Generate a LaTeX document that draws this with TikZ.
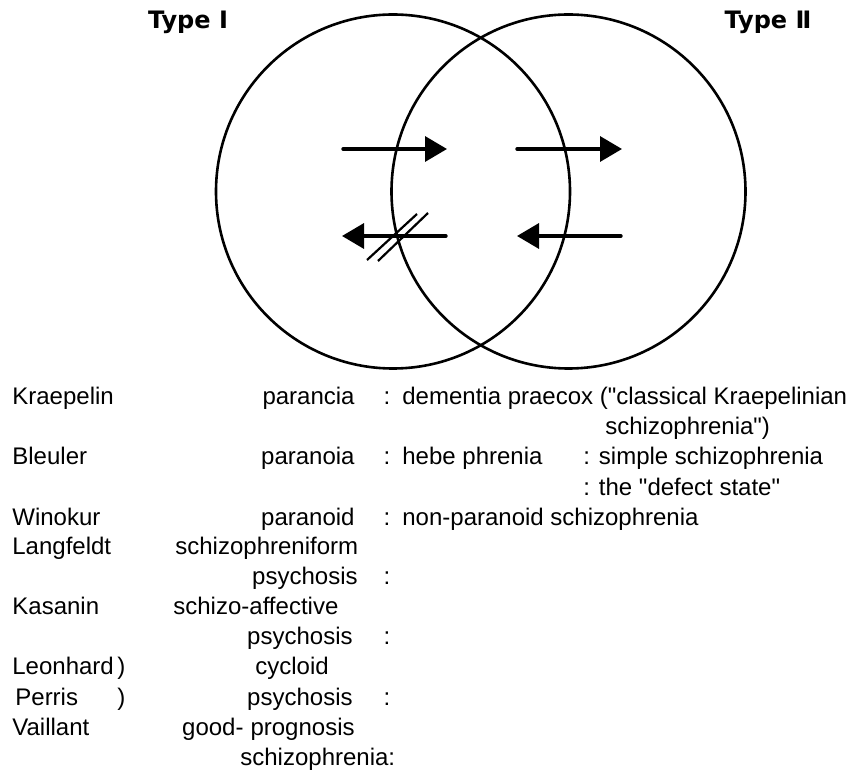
\documentclass[tikz,border=0pt]{standalone}
\usepackage{fontspec}
\setmainfont{Liberation Sans}
\newfontfamily\headfont{DejaVu Sans}
\usetikzlibrary{arrows.meta}

\begin{document}
\begin{tikzpicture}[
        x=0.5pt, y=-0.5pt,
        ring/.style={draw, circle, line width=1.3pt, minimum size=177pt, inner sep=0pt},
        head/.style={font=\headfont\bfseries\fontsize{12}{14}\selectfont, inner sep=0pt, anchor=base},
        txt/.style={font=\fontsize{12}{14}\selectfont, inner sep=0pt},
        lft/.style={txt, anchor=base west},
        rgt/.style={txt, anchor=base east},
        colon/.style={txt, anchor=base},
        arrow/.style={-{Triangle[length=11pt,width=12.5pt]}, line width=1.7pt, line cap=round},
        hatch/.style={line width=1.1pt}
    ]
        \useasboundingbox (0,0) rectangle (858,775);

        % Circles
        \node[ring] (typeI) at (393,191.5) {};
        \node[ring] (typeII) at (568.5,191.5) {};
        \node[head] (typeIlabel) at (188,29) {Type Ⅰ};
        \node[head] (typeIIlabel) at (768,29) {Type Ⅱ};

        % Arrows
        \coordinate (a1) at (343,149);
        \coordinate (a2) at (447,149);
        \coordinate (b1) at (517,149);
        \coordinate (b2) at (622,149);
        \coordinate (c1) at (446,236);
        \coordinate (c2) at (342,236);
        \coordinate (d1) at (621,236);
        \coordinate (d2) at (517,236);
        \draw[arrow] (a1) -- (a2);
        \draw[arrow] (b1) -- (b2);
        \draw[arrow] (c1) -- (c2);
        \draw[arrow] (d1) -- (d2);

        % Blocked arrow
        \coordinate (h1) at (367,260);
        \coordinate (h2) at (417,214);
        \coordinate (h3) at (378,261);
        \coordinate (h4) at (428,213);
        \draw[hatch] (h1) -- (h2);
        \draw[hatch] (h3) -- (h4);

        % Authors
        \node[lft] (kraepelin) at (12,405) {Kraepelin};
        \node[lft] (bleuler) at (12,465) {Bleuler};
        \node[lft] (winokur) at (12,525) {Winokur};
        \node[lft] (langfeldt) at (12,555) {Langfeldt};
        \node[lft] (kasanin) at (12,615) {Kasanin};
        \node[lft] (leonhard) at (12,675) {Leonhard};
        \node[lft] (perris) at (15,705) {Perris};
        \node[lft] (vaillant) at (12,735) {Vaillant};
        \node[lft] (brace1) at (117,675) {)};
        \node[lft] (brace2) at (117,705) {)};

        % Type I column
        \node[rgt] (kraeI) at (355,405) {parancia};
        \node[rgt] (bleuI) at (355,465) {paranoia};
        \node[rgt] (winoI) at (355,525) {paranoid};
        \node[lft] (langI) at (175,555) {schizophreniform};
        \node[rgt] (langIb) at (358,585) {psychosis};
        \node[lft] (kasaI) at (173,615) {schizo-affective};
        \node[rgt] (kasaIb) at (353,645) {psychosis};
        \node[lft] (leonI) at (255,675) {cycloid};
        \node[rgt] (leonIb) at (353,705) {psychosis};
        \node[rgt] (vailIa) at (244,735) {good-};
        \node[rgt] (vailI) at (355,735) {prognosis};
        \node[lft] (vailIb) at (240,765) {schizophrenia:};

        % Colons
        \foreach \r in {405,465,525,585,645,705}
            \node[colon] (sep\r) at (387,\r) {:};

        % Type II column
        \node[lft] (kraeII) at (402,405) {dementia praecox (\textquotedbl classical Kraepelinian};
        \node[lft] (kraeIIb) at (605,435) {schizophrenia\textquotedbl)};
        \node[lft] (bleuII) at (402,465) {hebe phrenia};
        \node[lft] (bleuIIb) at (583,465) {: simple schizophrenia};
        \node[lft] (bleuIIc) at (583,495) {: the \textquotedbl defect state\textquotedbl};
        \node[lft] (winoII) at (402,525) {non-paranoid schizophrenia};
    \end{tikzpicture}
\end{document}
